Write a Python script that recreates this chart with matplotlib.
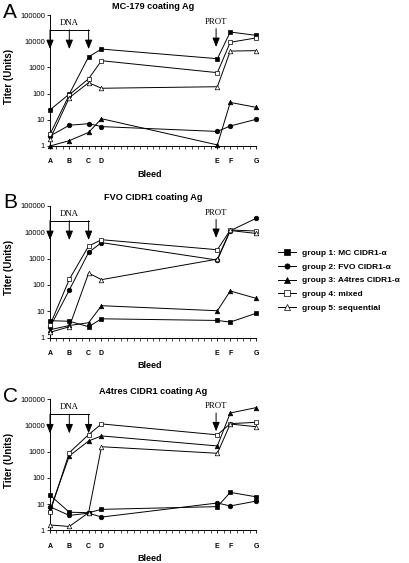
import matplotlib
matplotlib.use("Agg")
import matplotlib.pyplot as plt
from matplotlib.lines import Line2D
from matplotlib.ticker import FixedLocator, FuncFormatter

plt.rcParams['font.family'] = ['Liberation Sans', 'DejaVu Sans']

# ---- data ----
bleed_labels = ['A', 'B', 'C', 'D', 'E', 'F', 'G']
bleed_weeks = [0, 3, 6, 8, 26, 28, 32]

group_names = ['group 1: MC CIDR1-\u03b1', 'group 2: FVO CIDR1-\u03b1',
               'group 3: A4tres CIDR1-\u03b1', 'group 4: mixed', 'group 5: sequential']

panel_titles = ['MC-179 coating Ag', 'FVO CIDR1 coating Ag', 'A4tres CIDR1 coating Ag']
panel_letters = ['A', 'B', 'C']

a_g1 = [24, 96, 2550, 5000, 2150, 22400, 16700]
a_g2 = [2.4, 6.2, 7.1, 5.5, 3.6, 5.8, 10.4]
a_g3 = [1.0, 1.6, 3.3, 11, 1.1, 46, 30]
a_g4 = [2.8, 90, 370, 1800, 630, 9100, 13300]
a_g5 = [1.8, 70, 260, 160, 183, 4200, 4350]

b_g1 = [4.4, 4.2, 2.6, 5.2, 4.5, 3.9, 8.4]
b_g2 = [2.5, 64, 1700, 4000, 870, 11300, 33000]
b_g3 = [2.0, 2.9, 3.7, 16.3, 10.5, 59, 31]
b_g4 = [3.0, 162, 2960, 5150, 2150, 12000, 11000]
b_g5 = [1.6, 2.6, 280, 158, 950, 11500, 8900]

c_g1 = [22, 4.9, 4.7, 6.3, 8, 28, 19]
c_g2 = [7.9, 3.7, 4.5, 3.2, 11, 8.5, 13]
c_g3 = [5.9, 690, 2570, 4000, 1660, 30000, 48000]
c_g4 = [4.9, 920, 4500, 11500, 4400, 11800, 13200]
c_g5 = [1.6, 1.4, 4.7, 1550, 870, 11400, 9000]

panels = [[a_g1, a_g2, a_g3, a_g4, a_g5],
          [b_g1, b_g2, b_g3, b_g4, b_g5],
          [c_g1, c_g2, c_g3, c_g4, c_g5]]

dna_weeks = [0, 3, 6]
prot_week = 26

# ---- styles ----
styles = [dict(marker='s', mfc='black'),
          dict(marker='o', mfc='black'),
          dict(marker='^', mfc='black'),
          dict(marker='s', mfc='white'),
          dict(marker='^', mfc='white')]

W, H = 410, 563
fig = plt.figure(figsize=(W / 100, H / 100), dpi=100)

axes_px = [(15, 146), (205.7, 337.7), (399.3, 530.3)]
letter_top = [3, 193, 387]
left_px, right_px = 50, 256

for i, (top, bot) in enumerate(axes_px):
    ax = fig.add_axes([left_px / W, 1 - bot / H, (right_px - left_px) / W, (bot - top) / H])
    for g, vals in enumerate(panels[i]):
        st = styles[g]
        ax.plot(bleed_weeks, vals, color='black', lw=0.7, marker=st['marker'],
                mfc=st['mfc'], mec='black', mew=0.5, ms=3.3, clip_on=False, zorder=3)
    ax.set_yscale('log')
    ax.set_ylim(1, 100000)
    ax.set_xlim(0, 32)
    for s in ['top', 'right']:
        ax.spines[s].set_visible(False)
    for s in ['left', 'bottom']:
        ax.spines[s].set_linewidth(0.7)
    ax.yaxis.set_major_locator(FixedLocator([1, 10, 100, 1000, 10000, 100000]))
    ax.yaxis.set_minor_locator(FixedLocator([]))
    ax.yaxis.set_major_formatter(FuncFormatter(lambda v, p: '%d' % round(v)))
    ax.tick_params(axis='y', labelsize=5.4, length=2, width=0.6, pad=1.5)
    ax.set_xticks(bleed_weeks)
    ax.set_xticklabels(bleed_labels, fontweight='bold')
    ax.xaxis.set_minor_locator(FixedLocator(list(range(0, 33))))
    ax.tick_params(axis='x', which='major', labelsize=5.0, length=2, width=0.6, pad=7)
    ax.tick_params(axis='x', which='minor', length=2, width=0.5)
    ax.set_title(panel_titles[i], fontsize=6.6, fontweight='bold', pad=4)
    ax.set_ylabel('Titer (Units)', fontsize=7, fontweight='bold')
    ax.yaxis.set_label_coords(-0.175, 0.53)
    ax.set_xlabel('Bleed', fontsize=6.5, fontweight='bold')
    ax.xaxis.set_label_coords(0.485, -0.18)

    # DNA bracket and arrows
    ax.plot([dna_weeks[0], dna_weeks[-1]], [27000, 27000], color='black', lw=0.7)
    for wk in dna_weeks:
        ax.annotate('', xy=(wk, 5000), xytext=(wk, 27000),
                    arrowprops=dict(arrowstyle='-|>,head_length=0.55,head_width=0.22',
                                    color='black', lw=0.7, shrinkA=0, shrinkB=0))
    ax.text(sum(dna_weeks) / 3, 50000, 'DNA', fontsize=6.3, family='Liberation Serif',
            ha='center', va='center')
    ax.annotate('', xy=(prot_week - 0.2, 6000), xytext=(prot_week - 0.2, 30000),
                arrowprops=dict(arrowstyle='-|>,head_length=0.55,head_width=0.22',
                                color='black', lw=0.7, shrinkA=0, shrinkB=0))
    ax.text(prot_week - 0.2, 55000, 'PROT', fontsize=6.3, family='Liberation Serif',
            ha='center', va='center')

    fig.text(3 / W, 1 - letter_top[i] / H, panel_letters[i], fontsize=15,
             ha='left', va='top')

handles = [Line2D([0], [0], color='black', lw=0.7, marker=st['marker'], mfc=st['mfc'],
                  mec='black', mew=0.5, ms=3.8) for st in styles]
fig.legend(handles, group_names, loc='upper left', bbox_to_anchor=(278 / W, 1 - 249 / H),
           frameon=False, prop=dict(size=6.0, weight='bold'), handlelength=2.2,
           handletextpad=0.7, labelspacing=0.72, borderpad=0, borderaxespad=0)

fig.savefig('out.png', dpi=100)
